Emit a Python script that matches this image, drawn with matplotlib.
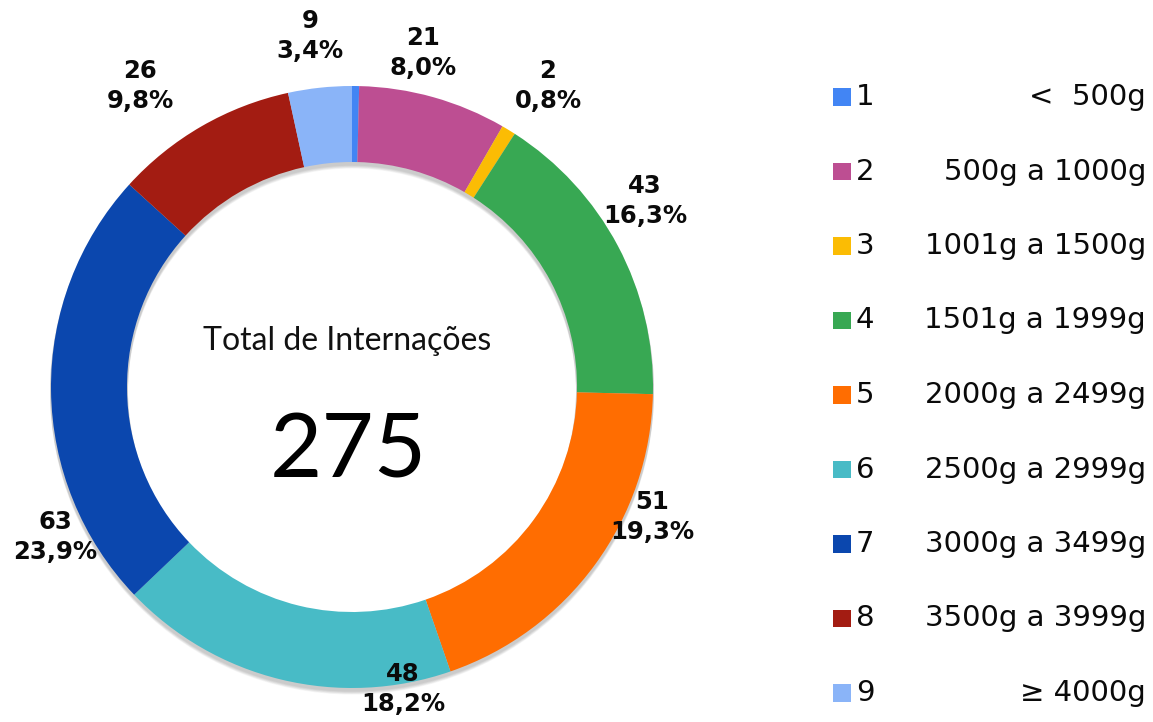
import numpy as np
import matplotlib
matplotlib.use("Agg")
import matplotlib.pyplot as plt
from matplotlib.patches import Wedge

# data
categories = ["1", "2", "3", "4", "5", "6", "7", "8", "9"]
ranges = ["<  500g", "500g a 1000g", "1001g a 1500g", "1501g a 1999g",
          "2000g a 2499g", "2500g a 2999g", "3000g a 3499g",
          "3500g a 3999g", "\u2265 4000g"]
counts = [1, 21, 2, 43, 51, 48, 63, 26, 9]
total_label = "275"

colors = ["#4285F4", "#BD4E92", "#FBBC04", "#38A853", "#FF6D01",
          "#48BBC6", "#0B47AE", "#A31C12", "#8AB4F8"]

W, H = 1153, 722


def py(y):
    # pixel row (from top) -> data y
    return H - y


fig = plt.figure(figsize=(W / 100, H / 100), dpi=100)
ax = fig.add_axes([0, 0, 1, 1])

cx, cy = 352, py(387)
r_out, ring_w = 301, 76

# soft drop shadow under the ring
for k in range(1, 7):
    ax.add_patch(Wedge((cx, cy - 2 - k * 0.6), r_out + 1, 0, 360, width=ring_w + 2,
                       facecolor="black", edgecolor="none", alpha=0.035, zorder=1))

wedges, _ = ax.pie(counts, colors=colors, startangle=90, counterclock=False,
                   radius=r_out, center=(cx, cy),
                   wedgeprops=dict(width=ring_w, edgecolor="none"))
for w in wedges:
    w.set_zorder(2)

# value / percent labels (segment 1 has no label in the original)
total = sum(counts)
label_pos = [None, (423, 53), (548, 86), (645, 201), (652, 517),
             (403, 689), (55, 537), (140, 86), (310, 36)]
for n, pos in zip(counts, label_pos):
    if pos is None:
        continue
    pct = f"{n / total * 100:.1f}".replace(".", ",")
    ax.text(pos[0], py(pos[1]), f"{n}\n{pct}%", ha="center", va="center",
            fontsize=17.5, fontweight="bold", family="DejaVu Sans",
            linespacing=1.3, color="#0a0a0a", zorder=5)

# centre text
ax.text(347, py(341), "Total de Internações", ha="center", va="center",
        fontsize=23, family="Lato", color="#111111")
ax.text(348, py(452), total_label, ha="center", va="center",
        fontsize=65, family="Lato", color="#000000")

# legend on the right
row_y = np.linspace(97, 693, len(categories))
ax.scatter([842] * len(categories), [py(y) for y in row_y], marker="s", s=160,
           c=colors, edgecolors="none", zorder=5)
for cat, rng, y in zip(categories, ranges, row_y):
    ax.text(856, py(y), cat, ha="left", va="center", fontsize=21,
            family="DejaVu Sans", color="#0a0a0a")
    ax.text(1146, py(y), rng, ha="right", va="center", fontsize=21,
            family="DejaVu Sans", color="#0a0a0a")

ax.set_xlim(0, W)
ax.set_ylim(0, H)
ax.set_aspect("equal")
ax.axis("off")

fig.savefig("out.png", dpi=100, facecolor="white")
